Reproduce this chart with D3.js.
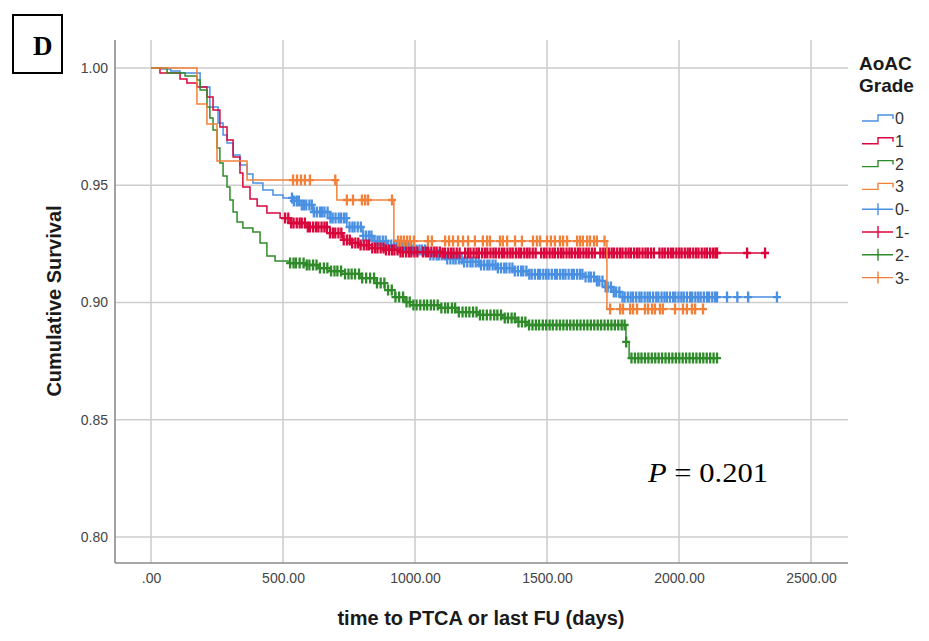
<!DOCTYPE html>
<html>
<head>
<meta charset="utf-8">
<script src="https://cdn.jsdelivr.net/npm/d3@7"></script>
<style>
  body { margin: 0; background: #ffffff; }
  svg { display: block; }
</style>
</head>
<body>
<svg id="chart" width="929" height="641"></svg>
<script>
// ---- axis ticks ----
const xTicks = [0, 500, 1000, 1500, 2000, 2500];
const xTickLabels = [".00", "500.00", "1000.00", "1500.00", "2000.00", "2500.00"];
const yTicks = [0.80, 0.85, 0.90, 0.95, 1.00];
const yTickLabels = ["0.80", "0.85", "0.90", "0.95", "1.00"];

// ---- groups (AoAC grade) ----
const groupNames = ["0", "1", "2", "3"];
const groupColors = ["#4a90e2", "#d9063c", "#2f8b2a", "#f28038"];

// event times (days) and cumulative survival after each event
const events0 = [[40,0.9996],[75,0.9987],[110,0.9979],[186,0.9919],[223,0.9834],[254,0.9765],[273,0.9714],[288,0.9680],[311,0.9629],[337,0.9586],[364,0.9548],[386,0.9510],[424,0.9480],[462,0.9458],[500,0.9446],[538,0.9433],[564,0.9416],[614,0.9386],[678,0.9360],[742,0.9322],[803,0.9284],[841,0.9262],[894,0.9245],[943,0.9237],[992,0.9224],[1057,0.9203],[1121,0.9186],[1182,0.9173],[1246,0.9160],[1311,0.9147],[1371,0.9134],[1424,0.9120],[1644,0.9109],[1682,0.9092],[1720,0.9066],[1746,0.9045],[1777,0.9023]];
const events1 = [[34,0.9979],[110,0.9953],[136,0.9936],[174,0.9919],[212,0.9876],[235,0.9821],[261,0.9748],[288,0.9693],[311,0.9620],[337,0.9552],[348,0.9493],[375,0.9441],[402,0.9412],[439,0.9382],[489,0.9360],[527,0.9339],[591,0.9322],[667,0.9296],[727,0.9267],[754,0.9254],[792,0.9245],[837,0.9232],[886,0.9224],[943,0.9215],[1095,0.9211]];
const events2 = [[61,0.9979],[129,0.9966],[174,0.9949],[186,0.9906],[212,0.9834],[223,0.9787],[235,0.9736],[250,0.9659],[261,0.9595],[273,0.9539],[288,0.9493],[299,0.9437],[311,0.9386],[326,0.9343],[348,0.9318],[386,0.9301],[413,0.9254],[439,0.9198],[470,0.9177],[527,0.9168],[583,0.9160],[633,0.9147],[678,0.9134],[723,0.9122],[792,0.9104],[848,0.9083],[886,0.9053],[924,0.9023],[962,0.9002],[992,0.8989],[1095,0.8977],[1159,0.8959],[1239,0.8947],[1333,0.8934],[1386,0.8917],[1424,0.8904],[1799,0.8832],[1811,0.8763]];
const events3 = [[174,0.9846],[212,0.9761],[250,0.9603],[364,0.9522],[704,0.9437],[920,0.9262],[1727,0.8972]];

// censored observation times (days)
const censored0 = [534,541,552,560,571,579,588,600,609,617,628,640,648,657,669,680,688,699,711,720,731,740,752,763,771,783,795,804,815,826,835,847,858,866,878,889,898,910,921,930,942,954,962,973,985,994,1006,1017,1026,1038,1049,1058,1070,1082,1090,1101,1113,1122,1134,1145,1154,1166,1177,1186,1198,1210,1218,1230,1241,1250,1262,1274,1282,1294,1305,1314,1326,1338,1346,1358,1369,1378,1390,1402,1410,1422,1433,1442,1454,1466,1474,1486,1497,1506,1518,1530,1538,1550,1561,1570,1582,1594,1602,1614,1625,1634,1646,1658,1666,1678,1689,1698,1710,1722,1730,1742,1753,1762,1774,1786,1794,1806,1817,1826,1838,1850,1858,1870,1881,1890,1902,1914,1922,1934,1945,1954,1966,1978,1986,1998,2009,2018,2030,2042,2050,2062,2073,2082,2094,2106,2114,2126,2137,2144,2182,2221,2262,2371];
const censored1 = [508,520,531,540,552,563,571,583,594,602,614,625,634,646,657,666,678,689,698,710,721,730,742,753,762,774,785,794,806,817,826,838,849,858,870,881,890,902,913,922,934,945,954,966,977,986,998,1009,1030,1041,1050,1062,1073,1082,1094,1105,1114,1126,1137,1146,1158,1169,1190,1201,1210,1222,1233,1242,1254,1265,1274,1286,1297,1306,1318,1329,1338,1350,1361,1370,1382,1393,1402,1414,1425,1434,1446,1457,1478,1489,1498,1510,1521,1530,1542,1553,1562,1574,1585,1594,1606,1617,1626,1638,1649,1658,1670,1681,1702,1713,1722,1734,1745,1754,1766,1777,1786,1798,1809,1818,1830,1841,1850,1862,1873,1882,1894,1905,1926,1937,1946,1958,1969,1978,1990,2001,2010,2022,2033,2042,2054,2065,2074,2086,2097,2106,2118,2129,2138,2144,2258,2326];
const censored2 = [527,540,549,563,578,590,600,614,627,640,655,668,682,695,706,720,735,748,760,773,788,800,815,830,845,856,870,884,898,912,926,940,955,968,980,994,1006,1020,1034,1046,1060,1072,1086,1100,1114,1125,1140,1152,1166,1180,1193,1206,1220,1233,1246,1258,1272,1286,1300,1312,1326,1340,1352,1366,1378,1392,1405,1418,1432,1445,1458,1470,1484,1497,1510,1522,1536,1549,1562,1575,1588,1601,1614,1627,1640,1653,1666,1679,1692,1705,1718,1731,1744,1757,1770,1783,1794,1800,1820,1833,1846,1858,1871,1884,1897,1910,1923,1936,1949,1962,1975,1988,2001,2014,2027,2040,2053,2066,2079,2092,2105,2118,2131,2144];
const censored3 = [538,553,568,583,602,698,742,765,799,811,822,913,936,947,958,970,981,996,1049,1064,1114,1129,1144,1163,1182,1201,1227,1257,1273,1284,1322,1333,1349,1379,1405,1447,1462,1474,1500,1515,1530,1549,1561,1576,1614,1625,1636,1652,1663,1678,1689,1718,1739,1777,1788,1815,1826,1841,1871,1883,1898,1909,1928,1939,1985,2015,2030,2049,2061,2091];

const legendLabels = ["0", "1", "2", "3", "0-", "1-", "2-", "3-"];

const eventSets = [events0, events1, events2, events3];
const censorSets = [censored0, censored1, censored2, censored3];

// ---- layout ----
const frame = { left: 115, right: 848, top: 40, bottom: 563 };
const svg = d3.select("#chart");

const x = d3.scaleLinear().domain([0, 2500]).range([151, 811]);
const y = d3.scaleLinear().domain([0.80, 1.00]).range([537, 68]);

const sansFont = "'Liberation Sans', Arial, sans-serif";
const serifFont = "'Liberation Serif', 'Times New Roman', serif";

// grid lines
const grid = svg.append("g");
grid.selectAll("line.gx").data(xTicks).join("line")
  .attr("x1", d => x(d)).attr("x2", d => x(d))
  .attr("y1", frame.top).attr("y2", frame.bottom)
  .attr("stroke", "#cdcdcd").attr("stroke-width", 1.6);
grid.selectAll("line.gy").data(yTicks).join("line")
  .attr("x1", frame.left).attr("x2", frame.right)
  .attr("y1", d => y(d)).attr("y2", d => y(d))
  .attr("stroke", "#cdcdcd").attr("stroke-width", 1.6);

// axis lines
svg.append("line")
  .attr("x1", frame.left).attr("x2", frame.left)
  .attr("y1", frame.top).attr("y2", frame.bottom)
  .attr("stroke", "#8a8a8a").attr("stroke-width", 1.6);
svg.append("line")
  .attr("x1", frame.left).attr("x2", frame.right)
  .attr("y1", frame.bottom).attr("y2", frame.bottom)
  .attr("stroke", "#8a8a8a").attr("stroke-width", 1.6);

// tick labels via d3 axes (domain path and tick marks hidden)
const xAxis = d3.axisBottom(x).tickValues(xTicks)
  .tickFormat((d, i) => xTickLabels[i]).tickSize(0).tickPadding(10);
const gx = svg.append("g").attr("transform", `translate(0,${frame.bottom})`).call(xAxis);
gx.select(".domain").remove();
gx.selectAll("text").attr("font-family", sansFont).attr("font-size", 14).attr("fill", "#444");

const yAxis = d3.axisLeft(y).tickValues(yTicks)
  .tickFormat((d, i) => yTickLabels[i]).tickSize(0).tickPadding(7);
const gy = svg.append("g").attr("transform", `translate(${frame.left},0)`).call(yAxis);
gy.select(".domain").remove();
gy.selectAll("text").attr("font-family", sansFont).attr("font-size", 14).attr("fill", "#444");

// survival value at time t for a step function
function survivalAt(events, t) {
  let s = 1;
  for (const [et, es] of events) { if (et <= t) s = es; else break; }
  return s;
}

const line = d3.line().x(d => x(d[0])).y(d => y(d[1])).curve(d3.curveStepAfter);

// curves, drawn in group order so later grades sit on top
groupNames.forEach((g, i) => {
  const ev = eventSets[i];
  const cens = censorSets[i];
  const tEnd = Math.max(d3.max(cens), d3.max(ev, d => d[0]));
  const pts = [[0, 1], ...ev, [tEnd, ev[ev.length - 1][1]]];
  const layer = svg.append("g");
  layer.append("path").datum(pts)
    .attr("d", line)
    .attr("fill", "none")
    .attr("stroke", groupColors[i])
    .attr("stroke-width", 1.5);
  layer.selectAll("path.cens").data(cens).join("path")
    .attr("class", "cens")
    .attr("d", t => {
      const cx = x(t), cy = y(survivalAt(ev, t));
      return `M${cx - 4},${cy}H${cx + 4}M${cx},${cy - 5.5}V${cy + 5.5}`;
    })
    .attr("fill", "none")
    .attr("stroke", groupColors[i])
    .attr("stroke-width", 2.3);
});

// axis titles
svg.append("text")
  .attr("transform", "translate(61,301) rotate(-90)")
  .attr("text-anchor", "middle")
  .attr("font-family", sansFont).attr("font-weight", "bold").attr("font-size", 20)
  .attr("fill", "#1a1a1a")
  .text("Cumulative Survival");
svg.append("text")
  .attr("x", 481).attr("y", 625)
  .attr("text-anchor", "middle")
  .attr("font-family", sansFont).attr("font-weight", "bold").attr("font-size", 20)
  .attr("fill", "#1a1a1a")
  .text("time to PTCA or last FU (days)");

// legend
const legend = svg.append("g");
legend.append("text").attr("x", 859).attr("y", 70)
  .attr("font-family", sansFont).attr("font-weight", "bold").attr("font-size", 19).attr("fill", "#1a1a1a")
  .text("AoAC");
legend.append("text").attr("x", 859).attr("y", 92)
  .attr("font-family", sansFont).attr("font-weight", "bold").attr("font-size", 19).attr("fill", "#1a1a1a")
  .text("Grade");
legendLabels.forEach((lab, i) => {
  const cy = 118 + i * 22.8;
  const col = groupColors[i % 4];
  if (i < 4) {
    legend.append("path")
      .attr("d", `M862,${cy + 3}H878V${cy - 3}H893V${cy + 1}`)
      .attr("fill", "none").attr("stroke", col).attr("stroke-width", 1.4);
  } else {
    legend.append("path")
      .attr("d", `M862,${cy}H893M878,${cy - 6}V${cy + 6}`)
      .attr("fill", "none").attr("stroke", col).attr("stroke-width", 1.4);
  }
  legend.append("text").attr("x", 895).attr("y", cy + 6)
    .attr("font-family", sansFont).attr("font-size", 16).attr("fill", "#333")
    .text(lab);
});

// panel letter
svg.append("rect").attr("x", 13).attr("y", 15).attr("width", 49).attr("height", 58)
  .attr("fill", "none").attr("stroke", "#000").attr("stroke-width", 2);
svg.append("text").attr("x", 33).attr("y", 55)
  .attr("font-family", serifFont).attr("font-weight", "bold").attr("font-size", 27).attr("fill", "#000")
  .text("D");

// log-rank p value
const pText = svg.append("text").attr("x", 648).attr("y", 482)
  .attr("font-family", serifFont).attr("font-size", 28).attr("fill", "#000")
  .attr("textLength", 120).attr("lengthAdjust", "spacingAndGlyphs");
pText.append("tspan").attr("font-style", "italic").text("P");
pText.append("tspan").text(" = 0.201");
</script>
</body>
</html>
